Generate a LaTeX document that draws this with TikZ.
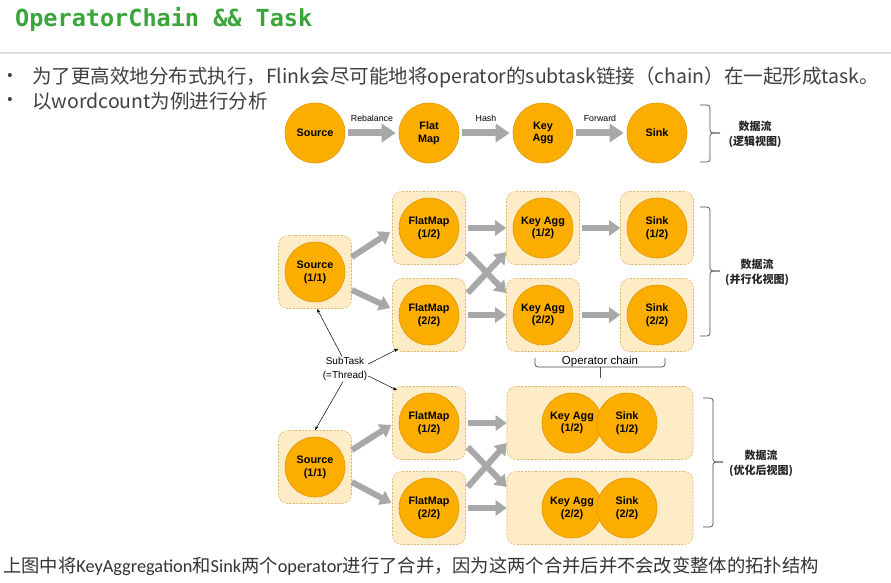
\documentclass[tikz,border=0pt]{standalone}
\usepackage{fontspec}
\setmainfont{Liberation Sans}
\newfontfamily\cjk{Noto Sans CJK SC}
\newfontfamily\titlefont{DejaVu Sans Mono}
\newfontfamily\narrowlatin{Carlito}
\usetikzlibrary{arrows.meta,positioning}
\definecolor{titlegreen}{RGB}{58,165,58}
\definecolor{opfill}{RGB}{252,174,0}
\definecolor{opline}{RGB}{226,150,0}
\definecolor{taskfill}{RGB}{253,236,198}
\definecolor{taskline}{RGB}{224,180,104}
\definecolor{flowgrey}{RGB}{168,168,168}
\definecolor{bodytext}{RGB}{64,64,64}
\newcommand{\lat}[1]{{\narrowlatin #1}}

\begin{document}
\begin{tikzpicture}[x=1pt,y=-1pt]
    \tikzset{op/.style={circle,draw=opline,fill=opfill,line width=0.6pt,minimum size=60pt,inner sep=0pt,align=center,font=\bfseries\fontsize{10.8}{12.8}\selectfont}}
    \tikzset{slot/.style={draw=taskline,fill=taskfill,dash pattern=on 2pt off 1.5pt,line width=0.6pt,rounded corners=9pt,minimum width=73pt,minimum height=73pt,inner sep=0pt}}
    \tikzset{flow/.style={draw=flowgrey,line width=6pt,-{Triangle[length=11pt,width=15pt]}}}
    \tikzset{bigflow/.style={draw=flowgrey,line width=7pt,-{Triangle[length=14pt,width=18pt]}}}
    \tikzset{note/.style={-{Stealth[length=4.5pt,width=3pt]},line width=0.5pt}}
    \tikzset{bracket/.style={draw=black!70,line width=0.7pt,rounded corners=3pt}}
    \tikzset{viewlabel/.style={align=center,font=\cjk\bfseries\fontsize{11}{15}\selectfont,text=black!85}}
    \tikzset{edgelabel/.style={font=\fontsize{8.8}{10}\selectfont,above=5pt}}

    \fill[white] (0,0) rectangle (891,583);
    \useasboundingbox (0,0) rectangle (891,583);

    \node[anchor=base west,inner sep=0pt,text=titlegreen,font=\titlefont\bfseries\fontsize{23.5}{26}\selectfont] (title) at (15,27) {OperatorChain \&\& Task};
    \draw[draw=black!13,line width=1.5pt] (0,53) -- (891,53);

    \node[text=bodytext,font=\fontsize{15}{15}\selectfont] (dot1) at (10,77) {•};
    \node[text=bodytext,font=\fontsize{15}{15}\selectfont] (dot2) at (10,101) {•};
    \node[anchor=west,inner sep=0pt,text=bodytext,font=\cjk\fontsize{19.5}{22}\selectfont] (line1) at (32,77) {为了更高效地分布式执行，Flink会尽可能地将operator的subtask链接（chain）在一起形成task。};
    \node[anchor=west,inner sep=0pt,text=bodytext,font=\cjk\fontsize{19.5}{22}\selectfont] (line2) at (32,101) {以wordcount为例进行分析};

    % logical view
    \node[op] (src) at (315,133) {Source};
    \node[op] (fmap) at (429,133) {Flat\\Map};
    \node[op] (kagg) at (543,133) {Key\\Agg};
    \node[op] (sink) at (657,133) {Sink};
    \draw[bigflow] ([xshift=3pt]src.east) -- node[edgelabel]{Rebalance} ([xshift=-3pt]fmap.west);
    \draw[bigflow] ([xshift=3pt]fmap.east) -- node[edgelabel]{Hash} ([xshift=-3pt]kagg.west);
    \draw[bigflow] ([xshift=3pt]kagg.east) -- node[edgelabel]{Forward} ([xshift=-3pt]sink.west);
    \draw[bracket] (700,105) -- (710,105) -- (710,133) -- (720,133);
    \draw[bracket] (700,162) -- (710,162) -- (710,133) -- (720,133);
    \node[viewlabel] (lview) at (755,134) {数据流\\(逻辑视图)};

    % parallel view
    \node[slot] (psrc) at (315,272) {};
    \node[op] at (315,272) {Source\\(1/1)};
    \node[slot] (pfm1) at (429,228) {};
    \node[op] at (429,228) {FlatMap\\(1/2)};
    \node[slot] (pfm2) at (429,315) {};
    \node[op] at (429,315) {FlatMap\\(2/2)};
    \node[slot] (pka1) at (543,228) {};
    \node[op] at (543,228) {Key Agg\\(1/2)};
    \node[slot] (pka2) at (543,315) {};
    \node[op] at (543,315) {Key Agg\\(2/2)};
    \node[slot] (psink1) at (657,228) {};
    \node[op] at (657,228) {Sink\\(1/2)};
    \node[slot] (psink2) at (657,315) {};
    \node[op] at (657,315) {Sink\\(2/2)};
    \draw[flow] ([yshift=15pt]psrc.east) -- ([xshift=-2pt,yshift=-4pt]pfm1.west);
    \draw[flow] ([yshift=-18pt]psrc.east) -- ([xshift=-2pt,yshift=7pt]pfm2.west);
    \draw[flow] ([xshift=2pt]pfm1.east) -- (pka1.west);
    \draw[flow] ([xshift=2pt,yshift=-25pt]pfm1.east) -- ([yshift=22pt]pka2.west);
    \draw[flow] ([xshift=2pt,yshift=22pt]pfm2.east) -- ([yshift=-24pt]pka1.west);
    \draw[flow] ([xshift=2pt]pfm2.east) -- (pka2.west);
    \draw[flow] ([xshift=2pt]pka1.east) -- (psink1.west);
    \draw[flow] ([xshift=2pt]pka2.east) -- (psink2.west);
    \draw[bracket] (700,207) -- (710,207) -- (710,271) -- (720,271);
    \draw[bracket] (700,336) -- (710,336) -- (710,271) -- (720,271);
    \node[viewlabel] (pview) at (757,272) {数据流\\(并行化视图)};

    \draw[bracket] (535,358) -- (535,367) -- (665,367) -- (665,358);
    \draw[bracket] (600,367) -- (600,378);
    \node[anchor=base,font=\fontsize{11.5}{13}\selectfont] (chainlabel) at (600,364) {Operator chain};

    \node[align=center,inner sep=1pt,font=\fontsize{10}{13.5}\selectfont] (subtask) at (345,369) {SubTask\\(=Thread)};

    % optimized view
    \node[slot] (osrc) at (315,467) {};
    \node[op] at (315,467) {Source\\(1/1)};
    \node[slot] (ofm1) at (429,423) {};
    \node[op] at (429,423) {FlatMap\\(1/2)};
    \node[slot] (ofm2) at (429,508) {};
    \node[op] at (429,508) {FlatMap\\(2/2)};
    \node[slot,minimum width=186pt] (ochain1) at (600,423) {};
    \node[op] at (572,423) {Key Agg\\(1/2)};
    \node[op] at (627,423) {Sink\\(1/2)};
    \node[slot,minimum width=186pt] (ochain2) at (600,508) {};
    \node[op] at (572,508) {Key Agg\\(2/2)};
    \node[op] at (627,508) {Sink\\(2/2)};
    \draw[flow] ([yshift=17pt]osrc.east) -- ([xshift=-1pt,yshift=-2pt]ofm1.west);
    \draw[flow] ([yshift=-15pt]osrc.east) -- ([xshift=-1pt,yshift=5pt]ofm2.west);
    \draw[flow] ([xshift=2pt]ofm1.east) -- (ochain1.west);
    \draw[flow] ([xshift=2pt,yshift=-24pt]ofm1.east) -- ([yshift=21pt]ochain2.west);
    \draw[flow] ([xshift=2pt,yshift=21pt]ofm2.east) -- ([yshift=-20pt]ochain1.west);
    \draw[flow] ([xshift=2pt]ofm2.east) -- (ochain2.west);
    \draw[bracket] (703,398) -- (713,398) -- (713,462) -- (723,462);
    \draw[bracket] (703,527) -- (713,527) -- (713,462) -- (723,462);
    \node[viewlabel] (oview) at (761,463) {数据流\\(优化后视图)};

    \draw[note] ([xshift=-3pt]subtask.north) -- ([xshift=2pt]psrc.south);
    \draw[note] ([yshift=5pt]subtask.east) -- ([xshift=6pt,yshift=3pt]pfm2.south west);
    \draw[note] ([yshift=-7pt]subtask.east) -- ([xshift=5pt,yshift=-4pt]ofm1.north west);
    \draw[note] ([xshift=-2pt]subtask.south) -- (osrc.north);

    \node[anchor=west,inner sep=0pt,text=bodytext!80!black,font=\cjk\fontsize{18.3}{20}\selectfont] (footer) at (3,566) {上图中将\lat{KeyAggregation}和\lat{Sink}两个\lat{operator}进行了合并，因为这两个合并后并不会改变整体的拓扑结构};
\end{tikzpicture}
\end{document}
